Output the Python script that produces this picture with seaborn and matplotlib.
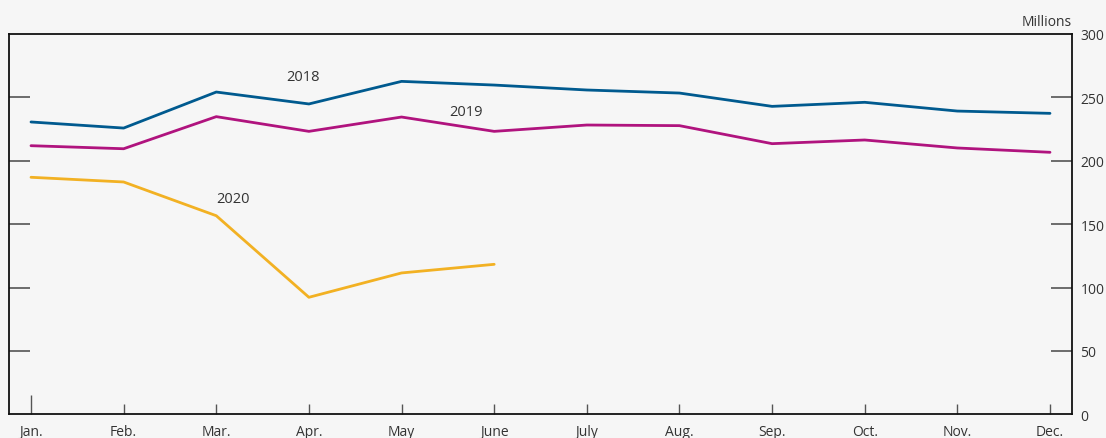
import matplotlib
matplotlib.use("Agg")
import matplotlib.pyplot as plt
import seaborn as sns
import pandas as pd

months = ["Jan.", "Feb.", "Mar.", "Apr.", "May", "June", "July", "Aug.", "Sep.", "Oct.", "Nov.", "Dec."]
v2018 = [230.5, 225.7, 254.1, 244.7, 262.5, 259.6, 255.7, 253.3, 242.8, 246.0, 239.1, 237.3]
v2019 = [211.8, 209.4, 234.7, 223.1, 234.4, 223.1, 228.1, 227.6, 213.4, 216.3, 210.0, 206.6]
v2020 = [186.9, 183.2, 156.6, 92.3, 111.5, 118.3]
series_names = ["2018", "2019", "2020"]
colors = ["#005a8f", "#b0137e", "#f2b123"]
yticks = [0, 50, 100, 150, 200, 250, 300]

rows = []
for name, vals in zip(series_names, [v2018, v2019, v2020]):
    for i, v in enumerate(vals):
        rows.append({"month": i, "value": v, "year": name})
df = pd.DataFrame(rows)

sns.set_style("white")
plt.rcParams["font.family"] = ["Open Sans", "DejaVu Sans"]

bg = "#f6f6f6"
fig = plt.figure(figsize=(11.06, 4.39), dpi=100, facecolor=bg)
ax = fig.add_axes([9 / 1106, 1 - 415.4 / 439, (1072 - 9) / 1106, (415.4 - 34.8) / 439])
ax.set_facecolor(bg)

sns.lineplot(data=df, x="month", y="value", hue="year", palette=colors,
             linewidth=2.0, legend=False, ax=ax, sort=False)

ax.set_xlim(-0.2375, 11.2375)
ax.set_ylim(0, 300)

ax.set_xticks(range(12))
ax.set_xticklabels(months)
ax.set_yticks(yticks)
ax.set_yticklabels([str(t) for t in yticks])

ax.yaxis.set_label_position("right")
ax.tick_params(axis="y", which="both", direction="in", length=15, width=1.2,
               color="#555555", left=True, right=True, labelleft=False,
               labelright=True, labelsize=10, labelcolor="#333333", pad=6)
ax.tick_params(axis="x", direction="in", length=7, width=1.0, color="#555555",
               bottom=True, top=False, labelbottom=True,
               labelsize=10, labelcolor="#333333", pad=7)
# hide tick marks at 0 and 300
yt = ax.yaxis.get_major_ticks()
for t in (yt[0], yt[-1]):
    t.tick1line.set_visible(False)
    t.tick2line.set_visible(False)
ax.xaxis.get_major_ticks()[0].tick1line.set_markersize(14)

for s in ax.spines.values():
    s.set_visible(True)
    s.set_color("#111111")
    s.set_linewidth(1.3)

ax.set_xlabel("")
ax.set_ylabel("")

ax.text(2.94, 266.7, "2018", ha="center", va="center", fontsize=10.5, color="#333333")
ax.text(4.70, 238.4, "2019", ha="center", va="center", fontsize=10.5, color="#333333")
ax.text(2.18, 169.8, "2020", ha="center", va="center", fontsize=10.5, color="#333333")

fig.text(1072 / 1106, 1 - 22 / 439, "Millions", ha="right", va="center",
         fontsize=10, color="#333333")

fig.savefig("out.png", dpi=100, facecolor=bg)
